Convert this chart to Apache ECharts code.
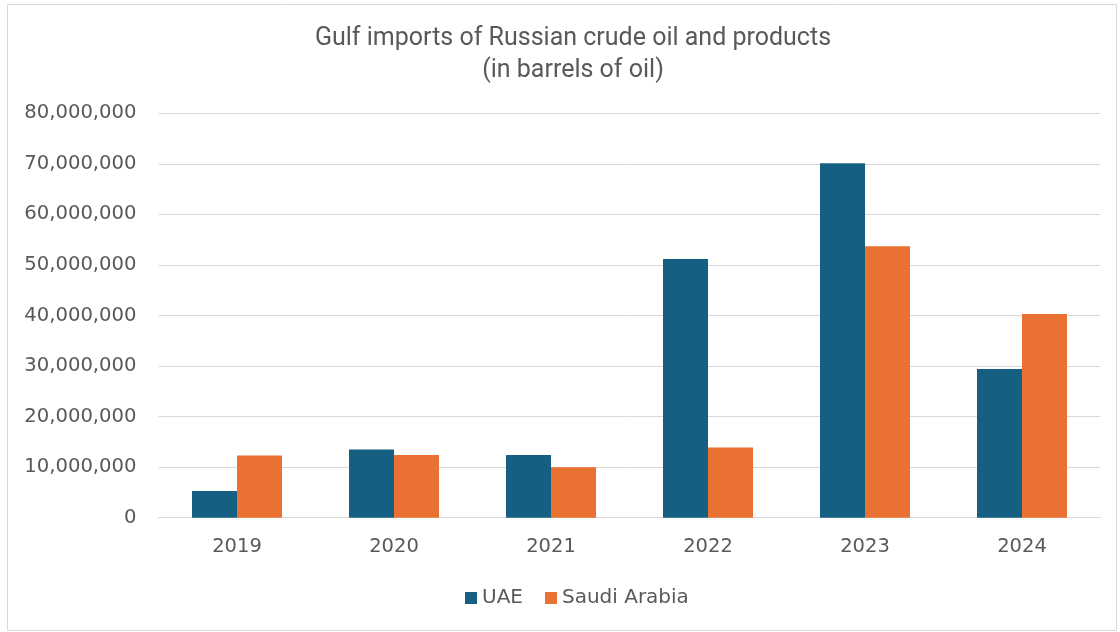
<!DOCTYPE html>
<html>
<head>
<meta charset="utf-8">
<script src="https://cdn.jsdelivr.net/npm/echarts@6/dist/echarts.min.js"></script>
<style>html,body{margin:0;padding:0;background:#fff;}#c{width:1120px;height:632px;}</style>
</head>
<body>
<div id="c"></div>
<script>
const categories = ['2019', '2020', '2021', '2022', '2023', '2024'];
const uae = [5300000, 13500000, 12400000, 51200000, 70100000, 29400000];
const saudi = [12300000, 12400000, 10000000, 13900000, 53700000, 40300000];
const seriesNames = ['UAE', 'Saudi Arabia'];
const titleText = 'Gulf imports of Russian crude oil and products\n(in barrels of oil)';

const chart = echarts.init(document.getElementById('c'));
const txt = '#595959';
const fam = '"DejaVu Sans", sans-serif';
chart.setOption({
  animation: false,
  backgroundColor: '#fff',
  graphic: [{
    type: 'rect', left: 5, top: 2,
    shape: { width: 1109, height: 626 },
    style: { fill: 'none', stroke: '#d9d9d9', lineWidth: 1 }
  }],
  title: {
    text: titleText,
    left: 568, top: 18, textAlign: 'center',
    textStyle: { color: txt, fontSize: 25, fontWeight: 'normal', fontFamily: 'Roboto, sans-serif', lineHeight: 32, align: 'center' }
  },
  legend: {
    data: seriesNames,
    bottom: 19, left: 460,
    itemWidth: 12, itemHeight: 12, itemGap: 22, itemTextGap: 6,
    icon: 'rect',
    textStyle: { color: txt, fontSize: 20, fontFamily: fam }
  },
  grid: { left: 158.5, right: 19.5, top: 113.3, bottom: 114.3, containLabel: false },
  xAxis: {
    type: 'category', data: categories,
    axisLine: { lineStyle: { color: '#d9d9d9', width: 1 } },
    axisTick: { show: false },
    axisLabel: { color: txt, fontSize: 19.5, margin: 19, fontFamily: fam }
  },
  yAxis: {
    type: 'value', min: 0, max: 80000000, interval: 10000000,
    axisLine: { show: false }, axisTick: { show: false },
    splitLine: { lineStyle: { color: '#d9d9d9', width: 1 } },
    axisLabel: {
      color: txt, fontSize: 19.6, margin: 22, fontFamily: fam,
      formatter: v => v.toLocaleString('en-US')
    }
  },
  series: [
    { name: seriesNames[0], type: 'bar', data: uae, barWidth: 45, barGap: '0%', itemStyle: { color: '#156082' } },
    { name: seriesNames[1], type: 'bar', data: saudi, barWidth: 45, barGap: '0%', itemStyle: { color: '#e97132' } }
  ]
});
</script>
</body>
</html>
